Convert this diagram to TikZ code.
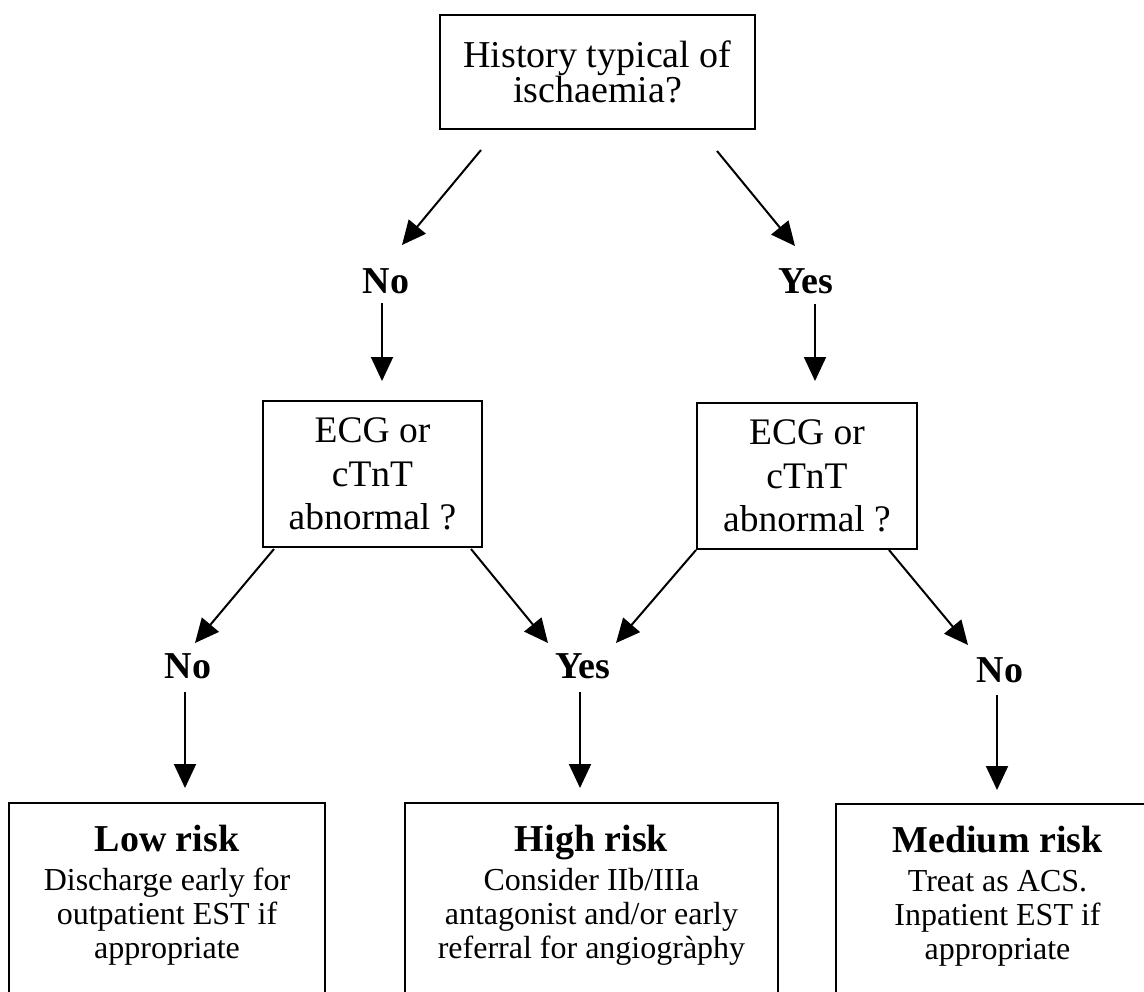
\documentclass[tikz,border=0pt]{standalone}
\usepackage{fontspec}
\setmainfont{Liberation Serif}
\usetikzlibrary{arrows.meta}

\tikzset{
  qbox/.style={draw, line width=1pt, align=center, inner sep=0pt},
  riskbox/.style={draw, line width=1pt, align=center, anchor=north,
    inner xsep=0pt, inner ysep=11pt, text depth=66pt,
    font=\fontsize{16}{17}\selectfont},
  answer/.style={anchor=base, inner sep=0pt, font=\bfseries\fontsize{19}{19}\selectfont},
  arr/.style={-{Triangle[length=12pt,width=11pt]}, line width=1pt},
}
\newcommand{\riskhead}[1]{{\bfseries\fontsize{19}{19}\selectfont #1}}

\begin{document}
\begin{tikzpicture}[x=0.5pt,y=-0.5pt]
    \useasboundingbox (0,0) rectangle (1144,991);
    \clip (0,0) rectangle (1144,991);
    % Questions
    \node[qbox, minimum width=157.5pt, minimum height=57pt,
      font=\fontsize{19}{17.5}\selectfont] (hist) at (597.5,72)
      {History typical of\\ ischaemia?};
    \node[qbox, minimum width=109.5pt, minimum height=73pt,
      font=\fontsize{18.75}{21.75}\selectfont] (ecgno) at (372.5,474)
      {ECG or\\ cTnT\\ abnormal ?};
    \node[qbox, minimum width=110pt, minimum height=73pt,
      font=\fontsize{18.75}{21.75}\selectfont] (ecgyes) at (807,476)
      {ECG or\\ cTnT\\ abnormal ?};
    % Answers
    \node[answer] (no1) at (386,293) {No};
    \node[answer] (yes1) at (806,293) {Yes};
    \node[answer] (no2) at (188,678) {No};
    \node[answer] (yes2) at (583,678) {Yes};
    \node[answer] (no3) at (1000,682) {No};
    % Outcomes
    \node[riskbox, minimum width=158pt] (low) at (167,802)
      {\riskhead{Low risk}\\[2.5pt] Discharge early for\\ outpatient EST if\\ appropriate};
    \node[riskbox, minimum width=186.5pt] (high) at (591.5,802)
      {\riskhead{High risk}\\[2.5pt] Consider IIb/IIIa\\ antagonist and/or early\\ referral for angiogràphy};
    \node[riskbox, minimum width=161.5pt] (med) at (997.5,803)
      {\riskhead{Medium risk}\\[2.5pt] Treat as ACS.\\ Inpatient EST if\\ appropriate};
    % Arrows
    \draw[arr] ([shift={(42,20)}]hist.south west) -- ([shift={(16,-48)}]no1.base);
    \draw[arr] ([shift={(-39,21)}]hist.south east) -- ([shift={(-11,-47)}]yes1.base);
    \draw[arr] ([shift={(-4,10)}]no1.base) -- ([shift={(9.5,-19)}]ecgno.north);
    \draw[arr] ([shift={(9,11)}]yes1.base) -- ([shift={(8,-21)}]ecgyes.north);
    \draw[arr] ([shift={(12,1)}]ecgno.south west) -- ([shift={(7,-35)}]no2.base);
    \draw[arr] ([shift={(-12,1)}]ecgno.south east) -- ([shift={(-35,-35)}]yes2.base);
    \draw[arr] (ecgyes.south west) -- ([shift={(33,-35)}]yes2.base);
    \draw[arr] ([shift={(-29,0)}]ecgyes.south east) -- ([shift={(-32,-37)}]no3.base);
    \draw[arr] ([shift={(-3,14)}]no2.base) -- ([shift={(18,-14)}]low.north);
    \draw[arr] ([shift={(-3,14)}]yes2.base) -- ([shift={(-11.5,-14)}]high.north);
    \draw[arr] ([shift={(-3,13)}]no3.base) -- ([shift={(-0.5,-13)}]med.north);
\end{tikzpicture}
\end{document}
